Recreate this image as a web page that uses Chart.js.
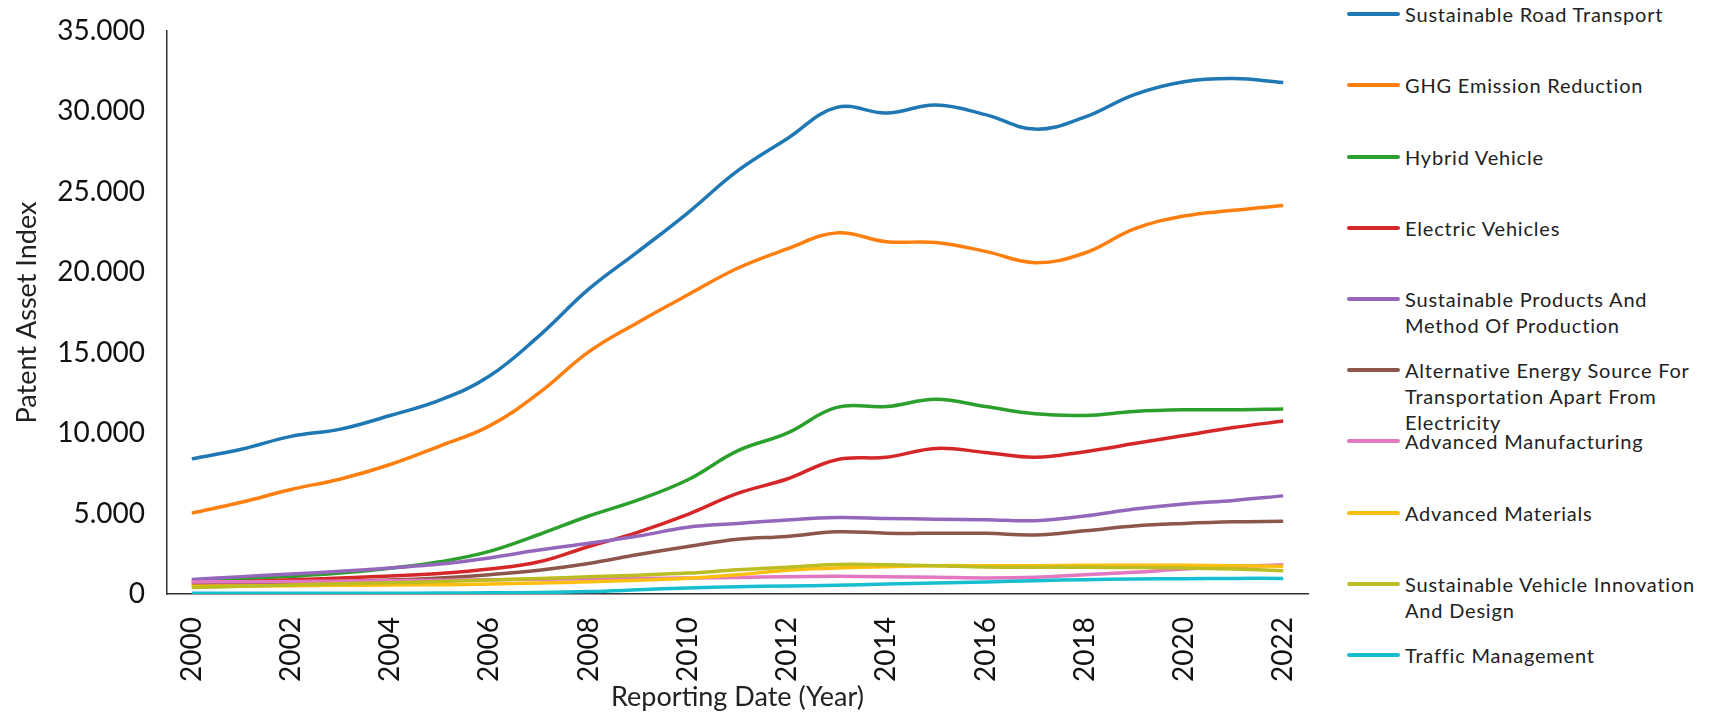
<!DOCTYPE html>
<html>
<head>
<meta charset="utf-8">
<script src="https://cdn.jsdelivr.net/npm/chart.js@4"></script>
<style>
  html, body { margin: 0; padding: 0; background: #fff; }
  #wrap { position: relative; width: 1710px; height: 713px; font-family: Lato, sans-serif; }
  #chart { position: absolute; left: 0; top: 0; }
  #legend { position: absolute; left: 1347px; top: 0; width: 363px; }
  .item { position: absolute; left: 0; display: flex; align-items: flex-start; }
  .swatch { width: 53px; height: 4px; border-radius: 2px; margin-top: 11px; flex-shrink: 0; }
  .label { margin-left: 5px; font-size: 20px; line-height: 26px; color: #222; letter-spacing: 0.8px; white-space: nowrap; }
</style>
</head>
<body>
<div id="wrap">
  <canvas id="chart" width="1325" height="713"></canvas>
  <div id="legend"></div>
</div>
<script>
const years = ['2000','2001','2002','2003','2004','2005','2006','2007','2008','2009','2010','2011',
  '2012','2013','2014','2015','2016','2017','2018','2019','2020','2021','2022'];

const roadTransport = [8400, 9000, 9800, 10250, 11100, 12050, 13550, 16050, 18950, 21300, 23700, 26300,
  28300, 30250, 29900, 30400, 29800, 28900, 29650, 31050, 31850, 32050, 31800];
const ghgReduction = [5030, 5700, 6500, 7150, 8050, 9200, 10450, 12500, 15050, 16900, 18600, 20250,
  21450, 22450, 21900, 21850, 21300, 20600, 21200, 22700, 23500, 23850, 24150];
const hybridVehicle = [850, 950, 1100, 1300, 1600, 2000, 2650, 3700, 4850, 5850, 7100, 8900,
  10000, 11600, 11650, 12100, 11650, 11200, 11100, 11350, 11450, 11450, 11500];
const electricVehicles = [700, 780, 880, 1000, 1120, 1280, 1550, 2000, 2950, 3850, 4950, 6250,
  7150, 8350, 8500, 9050, 8800, 8500, 8850, 9350, 9850, 10350, 10750];
const sustProducts = [900, 1080, 1240, 1410, 1620, 1860, 2240, 2730, 3150, 3600, 4150, 4380,
  4600, 4750, 4700, 4650, 4620, 4560, 4850, 5280, 5600, 5820, 6100];
const altEnergy = [600, 650, 700, 780, 870, 1000, 1200, 1480, 1900, 2450, 2950, 3400,
  3580, 3870, 3780, 3770, 3770, 3670, 3930, 4230, 4390, 4490, 4520];
const advManufacturing = [750, 760, 780, 800, 820, 850, 880, 910, 940, 970, 990, 1030,
  1080, 1100, 1080, 1040, 1000, 1040, 1200, 1350, 1550, 1700, 1820];
const advMaterials = [480, 500, 520, 540, 560, 580, 620, 680, 760, 860, 980, 1200,
  1480, 1610, 1700, 1760, 1760, 1760, 1780, 1780, 1780, 1760, 1720];
const vehicleDesign = [400, 480, 560, 640, 700, 780, 870, 960, 1070, 1170, 1300, 1500,
  1660, 1840, 1820, 1760, 1680, 1660, 1660, 1640, 1610, 1550, 1450];
const trafficMgmt = [50, 50, 50, 50, 50, 60, 70, 90, 150, 260, 380, 455,
  500, 540, 620, 680, 745, 830, 890, 930, 950, 970, 970];

const seriesNames = [
  'Sustainable Road Transport',
  'GHG Emission Reduction',
  'Hybrid Vehicle',
  'Electric Vehicles',
  'Sustainable Products And Method Of Production',
  'Alternative Energy Source For Transportation Apart From Electricity',
  'Advanced Manufacturing',
  'Advanced Materials',
  'Sustainable Vehicle Innovation And Design',
  'Traffic Management'
];
const seriesData = [roadTransport, ghgReduction, hybridVehicle, electricVehicles, sustProducts,
  altEnergy, advManufacturing, advMaterials, vehicleDesign, trafficMgmt];
const colors = ['#1f77b4', '#ff7f0e', '#2ca02c', '#d62728', '#9467bd',
  '#8c564b', '#e377c2', '#fcbf0f', '#bcbd22', '#17becf'];

const fmt = (v) => String(v).replace(/\B(?=(\d{3})+(?!\d))/g, '.');

const datasets = seriesNames.map((name, i) => ({
  label: name,
  data: seriesData[i],
  borderColor: colors[i],
  backgroundColor: colors[i],
  borderWidth: 3.5,
  tension: 0.4,
  pointRadius: 0,
  fill: false,
  order: seriesNames.length - i   // later series drawn on top
}));

// pin the plot box: no automatic padding from tick labels
const noPad = (s) => { s.paddingTop = 0; s.paddingBottom = 0; s.paddingLeft = 0; s.paddingRight = 0; };

new Chart(document.getElementById('chart'), {
  type: 'line',
  data: { labels: years, datasets },
  options: {
    responsive: false,
    devicePixelRatio: 1,
    animation: false,
    layout: { padding: { top: 31, right: 17, left: 0, bottom: 0 } },
    plugins: { legend: { display: false }, tooltip: { enabled: false } },
    scales: {
      x: {
        offset: true,
        grid: { display: false, drawTicks: false, offset: true },
        border: { color: '#333', width: 1.5 },
        ticks: {
          autoSkip: false,
          minRotation: 90,
          maxRotation: 90,
          padding: 23,
          color: '#111',
          font: { family: 'Lato', size: 28 },
          callback: (v, i) => (i % 2 === 0 ? years[i] : '')
        },
        title: {
          display: true,
          text: 'Reporting Date (Year)',
          color: '#222',
          font: { family: 'Lato', size: 27 },
          padding: { top: 0, bottom: 0 }
        },
        afterFit: (s) => { s.height = 119; noPad(s); }
      },
      y: {
        min: 0,
        max: 35000,
        grid: { display: false, drawTicks: false },
        border: { color: '#333', width: 1.5 },
        ticks: {
          stepSize: 5000,
          padding: 22,
          color: '#111',
          font: { family: 'Lato', size: 28 },
          callback: (v) => fmt(v)
        },
        title: {
          display: true,
          text: 'Patent Asset Index',
          color: '#222',
          font: { family: 'Lato', size: 27 },
          padding: { top: 11, bottom: 0 }
        },
        afterFit: (s) => { s.width = 167; noPad(s); }
      }
    }
  }
});

// legend on the right, built from the same series arrays
const legend = document.getElementById('legend');
const legendTops = [14, 85, 157, 228, 299, 370, 441, 513, 584, 655];
const legendLines = [
  ['Sustainable Road Transport'],
  ['GHG Emission Reduction'],
  ['Hybrid Vehicle'],
  ['Electric Vehicles'],
  ['Sustainable Products And', 'Method Of Production'],
  ['Alternative Energy Source For', 'Transportation Apart From', 'Electricity'],
  ['Advanced Manufacturing'],
  ['Advanced Materials'],
  ['Sustainable Vehicle Innovation', 'And Design'],
  ['Traffic Management']
];
seriesNames.forEach((name, i) => {
  const item = document.createElement('div');
  item.className = 'item';
  item.style.top = (legendTops[i] - 13) + 'px';
  item.innerHTML = `<div class="swatch" style="background:${colors[i]}"></div>
    <div class="label">${legendLines[i].join('<br>')}</div>`;
  legend.appendChild(item);
});
</script>
</body>
</html>
